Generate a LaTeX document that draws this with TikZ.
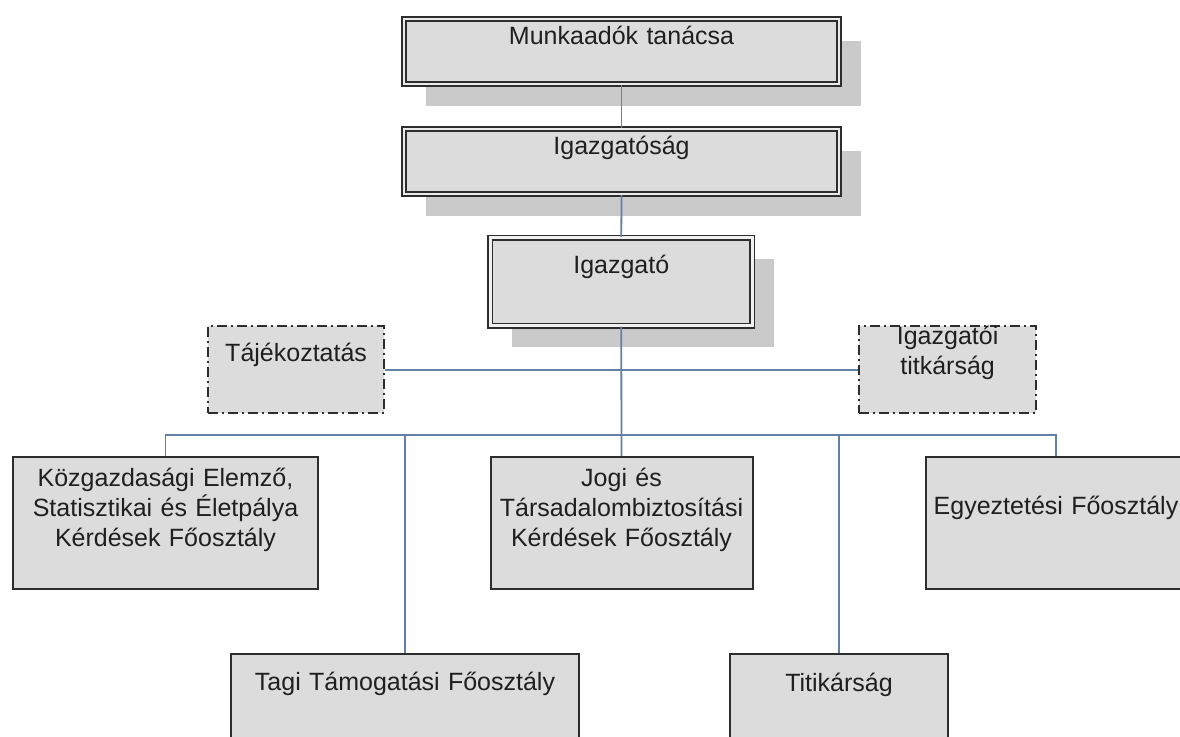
\documentclass[tikz,border=0pt]{standalone}
\usepackage{fontspec}
\setmainfont{Liberation Sans}
\usepackage{xcolor}
\usetikzlibrary{shadows,positioning}
\definecolor{boxgray}{RGB}{220,220,220}
\definecolor{shadegray}{RGB}{202,202,202}
\definecolor{edgegray}{RGB}{45,45,45}
\definecolor{linkblue}{RGB}{98,128,168}

\begin{document}
\begin{tikzpicture}[x=1pt, y=-1pt,
  every node/.style={font=\fontsize{25}{30}\selectfont, text=black!88},
  unit/.style={rectangle, draw=edgegray, line width=2pt, fill=boxgray, inner sep=0pt, anchor=north west, align=center},
  boardbox/.style={unit, double=boxgray!60!white, double distance=1.4pt, line width=2.1pt, general shadow={fill=shadegray, shadow xshift=22pt, shadow yshift=-22pt}},
  headbox/.style={unit, double=boxgray!40!white, double distance=3pt, line width=1.5pt, general shadow={fill=shadegray, shadow xshift=22pt, shadow yshift=-21pt}},
  staffbox/.style={unit, line width=2.2pt, dash pattern=on 10pt off 4pt on 2pt off 4pt},
  link/.style={draw=linkblue, line width=1.8pt}]
\useasboundingbox (0,0) rectangle (1180,736);
\clip (0,0) rectangle (1180,736);

% top of the organisation
\node[boardbox, text width=435pt, text height=25pt, text depth=40pt] (council) at (403,18) {Munkaadók tanácsa};
\node[boardbox, text width=435pt, text height=25pt, text depth=40pt] (directorate) at (403,128) {Igazgatóság};
\node[headbox, text width=262pt, text height=36pt, text depth=52pt] (director) at (489.5,237) {Igazgató};

% staff units
\node[staffbox, text width=176pt, text height=35pt, text depth=52pt] (press) at (207,325) {Tájékoztatás};
\node[staffbox, text width=177pt, text height=18pt, text depth=69pt] (secretariat) at (858,325) {Igazgatói\\titkárság};

% departments
\node[unit, text width=305pt, text height=29pt, text depth=103pt] (economics) at (12,456) {Közgazdasági Elemző,\\Statisztikai és Életpálya\\Kérdések Főosztály};
\node[unit, text width=262pt, text height=29pt, text depth=103pt] (legal) at (489.5,456) {Jogi és\\Társadalombiztosítási\\Kérdések Főosztály};
\node[unit, text width=260pt, text height=57pt, text depth=75pt] (coordination) at (925,456) {Egyeztetési Főosztály};
\node[unit, text width=348pt, text height=36pt, text depth=74pt] (membership) at (230,653) {Tagi Támogatási Főosztály};
\node[unit, text width=218pt, text height=37pt, text depth=73pt] (office) at (729,653) {Titikárság};

\coordinate (bus) at (0,435);
\draw[link] (council.south) -- (directorate.north);
\draw[link] (directorate.south) -- (director.north);
\draw[link] (director.south) -- (legal.north);
\draw[link] (press.east) -- (secretariat.west);
\draw[link] (economics.north) -- (economics.north |- bus) -| (coordination.north);
\draw[link] (membership.north) -- (membership.north |- bus);
\draw[link] (office.north) -- (office.north |- bus);
\end{tikzpicture}
\end{document}
